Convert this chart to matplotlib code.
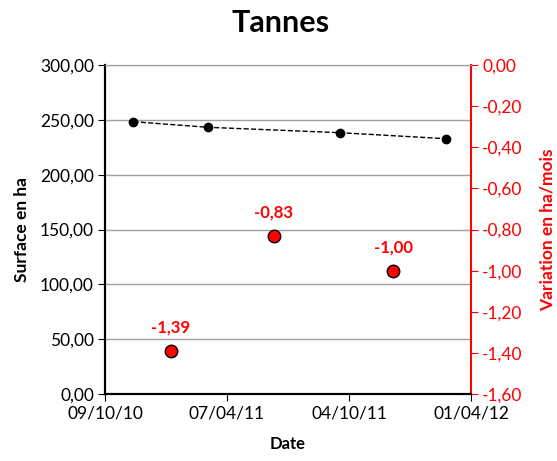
import datetime as dt
import matplotlib
matplotlib.use('Agg')
import matplotlib.pyplot as plt
import matplotlib.dates as mdates
from matplotlib.ticker import FuncFormatter, MultipleLocator

plt.rcParams['font.family'] = ['Lato', 'DejaVu Sans']

# surface measurements
surface_dates = [dt.date(2010, 11, 20), dt.date(2011, 3, 10),
                 dt.date(2011, 9, 20), dt.date(2012, 2, 24)]
surface_ha = [248.3, 243.2, 238.3, 232.8]

# monthly variation between two measurements
variation_dates = [dt.date(2011, 1, 14), dt.date(2011, 6, 15), dt.date(2011, 12, 8)]
variation = [-1.39, -0.83, -1.00]

tick_dates = [dt.date(2010, 10, 9), dt.date(2011, 4, 7),
              dt.date(2011, 10, 4), dt.date(2012, 4, 1)]

def comma(fmt):
    return FuncFormatter(lambda v, p: (fmt % v).replace('.', ','))

fig = plt.figure(figsize=(5.57, 4.61), dpi=100)
ax = fig.add_axes([0.1885, 0.1453, 0.6571, 0.7137])
ax2 = ax.twinx()

ax.set_ylim(0, 300)
ax.yaxis.set_major_locator(MultipleLocator(50))
ax.yaxis.set_major_formatter(comma('%.2f'))
ax.grid(axis='y', color='#a0a0a0', lw=1)
ax.set_axisbelow(True)
ax.plot(surface_dates, surface_ha, ls='--', color='black', lw=1,
        marker='o', ms=6, zorder=3)

ax.set_xlim(tick_dates[0], tick_dates[-1])
ax.set_xticks(tick_dates)
ax.xaxis.set_major_formatter(mdates.DateFormatter('%d/%m/%y'))

ax2.set_ylim(-1.6, 0)
ax2.yaxis.set_major_locator(MultipleLocator(0.2))
ax2.yaxis.set_major_formatter(comma('%.2f'))
ax2.plot(variation_dates, variation, ls='none', marker='o', ms=9,
         mfc='red', mec='black', mew=1, zorder=3)
for d, v in zip(variation_dates, variation):
    ax2.annotate(('%.2f' % v).replace('.', ','), (d, v), xytext=(0, 11),
                 textcoords='offset points', ha='center', va='bottom',
                 color='red', fontsize=12, fontweight='bold')

for a in (ax, ax2):
    a.spines['top'].set_color('#a0a0a0')
    a.spines['left'].set_color('black')
    a.spines['bottom'].set_color('black')
    a.spines['bottom'].set_linewidth(1.5)
    a.spines['left'].set_linewidth(1.5)
ax2.spines['right'].set_color('red')
ax2.spines['right'].set_linewidth(1.5)
ax.spines['right'].set_visible(False)

ax.tick_params(axis='both', labelsize=12.5, length=5, color='black')
ax.tick_params(axis='y', pad=3)
ax2.tick_params(axis='y', labelsize=12.5, length=5, colors='red', pad=3)

ax.set_ylabel('Surface en ha', fontsize=12.5, fontweight='bold', labelpad=7)
ax2.set_ylabel('Variation en ha/mois', fontsize=12.5, fontweight='bold',
               color='red', labelpad=12)
ax.set_xlabel('Date', fontsize=12, fontweight='bold', labelpad=10)
fig.suptitle('Tannes', fontsize=22, fontweight='bold', x=0.503, y=0.98)

fig.savefig('out.png', dpi=100)
